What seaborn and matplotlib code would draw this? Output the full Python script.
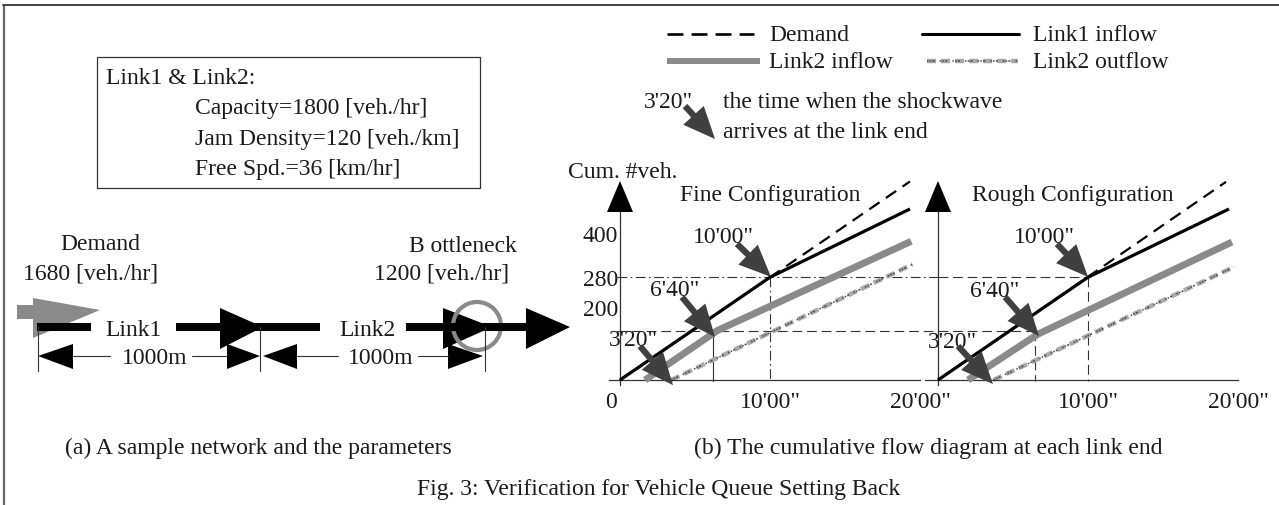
import matplotlib
matplotlib.use("Agg")
import matplotlib.pyplot as plt
import seaborn as sns
import numpy as np
import pandas as pd
from matplotlib.patches import Polygon, Circle, Rectangle

# ------------------------------------------------------------------
# Data (time in seconds, cumulative number of vehicles)
# ------------------------------------------------------------------
series_names = ["Demand", "Link1 inflow", "Link2 inflow", "Link2 outflow"]

fine_demand_t = [0, 1160]
fine_demand_n = [0, 541]
fine_link1_in_t = [0, 600, 1160]
fine_link1_in_n = [0, 280, 466]
fine_link2_in_t = [100, 390, 1165]
fine_link2_in_n = [0, 135, 378]
fine_link2_out_t = [205, 1170]
fine_link2_out_n = [0, 315]

rough_demand_t = [0, 1152]
rough_demand_n = [0, 540]
rough_link1_in_t = [0, 600, 1164]
rough_link1_in_n = [0, 280, 466]
rough_link2_in_t = [120, 400, 1176]
rough_link2_in_n = [0, 125, 376]
rough_link2_out_t = [222, 1184]
rough_link2_out_n = [0, 308]

# shockwave arrival markers (label, time, cum. veh.)
shock_labels = ["3'20\"", "6'40\"", "10'00\""]
fine_shock_t = [212, 380, 604]
fine_shock_n = [-14, 117, 281]
rough_shock_t = [220, 404, 600]
rough_shock_n = [-11, 120, 281]

# reference (guide) levels
guide_n = [280, 134]
fine_guide_t = [600, 372]
rough_guide_t = [600, 388]

x_ticks = [600, 1200]
x_tick_labels = ["10'00\"", "20'00\""]
y_ticks = [200, 280, 400]
y_tick_labels = ["200", "280", "400"]

panel_titles = ["Fine Configuration", "Rough Configuration"]

# ------------------------------------------------------------------
W, H = 1279, 506
sns.set_theme(style="white")
plt.rcParams["font.family"] = ["Liberation Serif", "DejaVu Serif"]
plt.rcParams["lines.scale_dashes"] = False
FS = 17
INK = "#1a1a1a"
GRAY = "#8a8a8a"
DARK = "#404040"
OUT_LIGHT = "#a9a9a9"
OUT_DARK = "#4a4a4a"
OUT_DASH = (0, (6.5, 3.6))
OUT_DOTS = (0, (1.1, 0.9, 1.1, 0.9, 1.5, 3.6))
ARROW = "simple,head_length=2.3,head_width=2.0,tail_width=0.45"

fig = plt.figure(figsize=(W / 100, H / 100), dpi=100)


def add_px_axes(left, top, right, bottom):
    return fig.add_axes([left / W, 1 - bottom / H, (right - left) / W, (bottom - top) / H])


# overlay axes in pixel coordinates for the illustration parts
ov = add_px_axes(0, 0, W, H)
ov.set_xlim(0, W)
ov.set_ylim(H, 0)
ov.axis("off")
ov.patch.set_alpha(0)

# frame
ov.plot([4, 4], [506, 6], color="#666666", lw=1.6, solid_capstyle="butt")
ov.plot([3, 1279], [6, 6], color="#222222", lw=1.2)

# parameter box
ov.add_patch(Rectangle((97, 58), 383, 131, fill=False, ec="#333333", lw=0.9))


def T(s, x, y, ha="left", **kw):
    ov.text(x, y, s, ha=ha, va="center", fontsize=FS, color=INK, **kw)


T("Link1 & Link2:", 106, 78)
T("Capacity=1800 [veh./hr]", 195, 108)
T("Jam Density=120 [veh./km]", 195, 139)
T("Free Spd.=36 [km/hr]", 195, 169)

# ---------------- network sketch ----------------
T("Demand", 100, 245, "center")
T("1680 [veh./hr]", 91, 274, "center")
T("B ottleneck", 463, 246, "center")
T("1200 [veh./hr]", 442, 274, "center")

LW_LINK = 5.8
for x0, x1 in [(37, 91), (176, 320), (406, 528)]:
    ov.plot([x0, x1], [328, 328], color="black", lw=LW_LINK, solid_capstyle="butt")
for xb, xt in [(220, 263), (443, 492), (526, 570)]:
    ov.add_patch(Polygon([(xb, 309), (xb, 350), (xt, 328)], closed=True, fc="black", ec="none"))
# gray demand arrow
ov.add_patch(Rectangle((17, 306), 20, 14, fc=GRAY, ec="none"))
ov.add_patch(Polygon([(33, 299), (33, 339), (100, 311)], closed=True, fc=GRAY, ec="none"))
ov.add_patch(Circle((477, 327), 24, fill=False, ec=GRAY, lw=3.0))
T("Link1", 134, 330, "center")
T("Link2", 367, 330, "center")
for x in [38, 260, 485]:
    ov.plot([x, x], [328, 372], color="#333333", lw=0.8)
for (tipx, basex) in [(38, 73), (260, 227), (263, 297), (483, 448)]:
    ov.add_patch(Polygon([(tipx, 357), (basex, 345), (basex, 370)], closed=True, fc="black", ec="none"))
for x0, x1 in [(73, 110), (192, 227), (297, 338), (418, 448)]:
    ov.plot([x0, x1], [357, 357], color="#333333", lw=0.8)
T("1000m", 155, 358, "center")
T("1000m", 381, 358, "center")

T("(a) A sample network and the parameters", 65, 448)
T("(b) The cumulative flow diagram at each link end", 1162, 448, "right")
T("Fig. 3: Verification for Vehicle Queue Setting Back", 417, 490)

# ---------------- legend ----------------
ov.plot([667, 754], [35, 35], color="black", lw=1.9, linestyle=(0, (11.5, 5.8)))
ov.plot([922, 1019], [35, 35], color="black", lw=2.2)
ov.plot([667, 760], [62, 62], color=GRAY, lw=4.3, solid_capstyle="butt")
ov.plot([927, 1018], [62, 62], color=OUT_LIGHT, lw=3.2, linestyle=OUT_DASH, solid_capstyle="butt")
ov.plot([927, 1018], [62, 62], color=OUT_DARK, lw=1.1, linestyle=OUT_DOTS)
T(series_names[0], 769, 35)
T(series_names[1], 1033, 35)
T(series_names[2], 769, 62)
T(series_names[3], 1033, 62)
T(shock_labels[0], 668, 102, "center")
ov.annotate("", xy=(715, 140), xytext=(685, 107), xycoords="data", textcoords="data",
            arrowprops=dict(arrowstyle=ARROW, mutation_scale=10, fc=DARK, ec="none",
                            shrinkA=0, shrinkB=0))
T("the time when the shockwave", 723, 102)
T("arrives at the link end", 723, 132)

T("Cum. #veh.", 568, 172)
T(panel_titles[0], 770, 195, "center")
T(panel_titles[1], 1073, 195, "center")

# y-axis arrow heads
for x in [620, 938]:
    ov.add_patch(Polygon([(x - 13, 213), (x + 13, 213), (x, 182)], closed=True, fc="black", ec="none"))

# ------------------------------------------------------------------
# chart axes
# ------------------------------------------------------------------
PX_S = 0.25
PX_V = 0.367
X_AXIS_Y = 381


def chart_axes(t0_px, left, right, top=170, bottom=410):
    ax = add_px_axes(left, top, right, bottom)
    ax.set_xlim((left - t0_px) / PX_S, (right - t0_px) / PX_S)
    ax.set_ylim((X_AXIS_Y - bottom) / PX_V, (X_AXIS_Y - top) / PX_V)
    ax.patch.set_alpha(0)
    for sp in ["top", "right"]:
        ax.spines[sp].set_visible(False)
    for sp in ["left", "bottom"]:
        ax.spines[sp].set_position(("data", 0))
        ax.spines[sp].set_color("#333333")
        ax.spines[sp].set_linewidth(0.9)
    ax.spines["left"].set_bounds(-14, (X_AXIS_Y - 213) / PX_V)
    ax.grid(False)
    return ax


axF = chart_axes(620, 600, 930)
axF.spines["bottom"].set_bounds(-44, 1200)
axR = chart_axes(938, 918, 1262)
axR.spines["bottom"].set_bounds(-52, 1200)

panels = [
    (axF, fine_demand_t, fine_demand_n, fine_link1_in_t, fine_link1_in_n,
     fine_link2_in_t, fine_link2_in_n, fine_link2_out_t, fine_link2_out_n,
     fine_shock_t, fine_shock_n, fine_guide_t, 938 - 620,
     [(-40, 46), (-40, 48), (-48, 40)], [(-33, 39), (-33, 40), (-34, 33)]),
    (axR, rough_demand_t, rough_demand_n, rough_link1_in_t, rough_link1_in_n,
     rough_link2_in_t, rough_link2_in_n, rough_link2_out_t, rough_link2_out_n,
     rough_shock_t, rough_shock_n, rough_guide_t, 0,
     [(-41, 43), (-44, 45), (-44, 40)], [(-35, 38), (-34, 39), (-31, 33)]),
]

DASH = (0, (7, 3.5))
DASHDOT = (0, (7, 2.5, 1.2, 2.5))

for i, (ax, dt, dn, l1t, l1n, l2t, l2n, ot, on, st, sn, gt, ext, lab_off, tail_off) in enumerate(panels):
    # guide lines
    if i == 0:
        right_end = ext / PX_S
        ax.plot([-12, right_end], [guide_n[0]] * 2, color="#333333", lw=0.8,
                linestyle=DASHDOT, clip_on=False, zorder=1)
        ax.plot([-12, right_end], [guide_n[1]] * 2, color="#333333", lw=0.8,
                linestyle=DASH, clip_on=False, zorder=1)
        ax.plot([gt[0]] * 2, [guide_n[0], -4], color="#333333", lw=0.8,
                linestyle=DASHDOT, zorder=1)
        ax.plot([gt[1]] * 2, [guide_n[1], -2], color="#333333", lw=0.8, zorder=1)
    else:
        ax.plot([0, gt[0]], [guide_n[0]] * 2, color="#333333", lw=0.8, linestyle=DASH, zorder=1)
        ax.plot([0, gt[1]], [guide_n[1]] * 2, color="#333333", lw=0.8, linestyle=DASH, zorder=1)
        ax.plot([gt[0]] * 2, [guide_n[0], -4], color="#333333", lw=0.8, linestyle=DASH, zorder=1)
        ax.plot([gt[1]] * 2, [guide_n[1], -2], color="#333333", lw=0.8, linestyle=DASH, zorder=1)

    # series
    sns.lineplot(x=ot, y=on, ax=ax, color=OUT_LIGHT, lw=3.2, estimator=None,
                 linestyle=OUT_DASH, solid_capstyle="butt", zorder=2)
    sns.lineplot(x=ot, y=on, ax=ax, color=OUT_DARK, lw=1.1, estimator=None,
                 linestyle=OUT_DOTS, zorder=2)
    sns.lineplot(x=l2t, y=l2n, ax=ax, color=GRAY, lw=5.0, estimator=None,
                 solid_capstyle="butt", solid_joinstyle="miter", zorder=3)
    sns.lineplot(x=dt, y=dn, ax=ax, color="black", lw=1.6, estimator=None,
                 linestyle=(0, (9, 5.5)), zorder=3)
    sns.lineplot(x=l1t, y=l1n, ax=ax, color="black", lw=2.3, estimator=None,
                 solid_capstyle="butt", zorder=4)

    # shockwave arrows
    for k in range(3):
        ax.annotate("", xy=(st[k], sn[k]), xytext=tail_off[k], textcoords="offset pixels",
                    arrowprops=dict(arrowstyle=ARROW, mutation_scale=10, fc=DARK, ec="none",
                                    shrinkA=0, shrinkB=0),
                    zorder=6)
        ax.annotate(shock_labels[k], xy=(st[k], sn[k]), xytext=lab_off[k],
                    textcoords="offset pixels", ha="center", va="center", fontsize=FS,
                    color=INK, zorder=5)

    # ticks
    ax.set_xticks(x_ticks)
    ax.set_xticklabels(x_tick_labels)
    ax.tick_params(axis="x", direction="in", length=5.5, width=0.9, color="#333333",
                   pad=8, labelsize=FS, labelcolor=INK)
    if i == 0:
        ax.set_yticks(y_ticks)
        ax.set_yticklabels(y_tick_labels)
    else:
        ax.set_yticks([200, 400])
        ax.set_yticklabels(["", ""])
    ax.tick_params(axis="y", direction="in", length=7.2, width=0.9, color="#333333",
                   pad=1.5, labelsize=FS, labelcolor=INK)
    ax.set_xlabel("")
    ax.set_ylabel("")

axF.text(-36, 0, "0", ha="center", va="top", fontsize=FS, color=INK,
         transform=axF.transData + matplotlib.transforms.ScaledTranslation(0, -8 / 72, fig.dpi_scale_trans))

fig.savefig("out.png", dpi=100)
